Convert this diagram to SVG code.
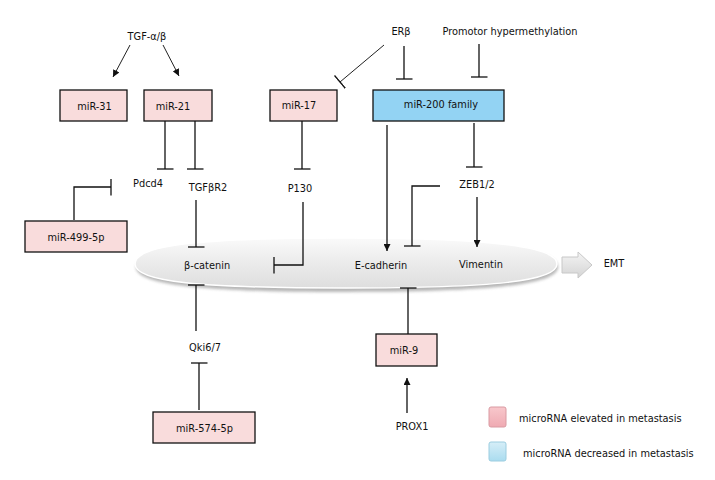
<svg xmlns="http://www.w3.org/2000/svg" width="715" height="480" viewBox="0 0 715 480">
<defs>
<style>
text{font-family:"DejaVu Sans",Verdana,sans-serif;font-size:9.8px;fill:#111;}
.c{text-anchor:middle;}
.pink{fill:#f9dcdc;stroke:#111;stroke-width:1.3;}
.blue{fill:#93d3f3;stroke:#111;stroke-width:1.3;}
.ln{fill:none;stroke:#111;stroke-width:1.3;}
.thin{fill:none;stroke:#222;stroke-width:1;}
.tee{marker-end:url(#tee);}
.arr{marker-end:url(#arr);}
</style>
<marker id="arr" viewBox="0 0 7 7" refX="7" refY="3.5" markerWidth="7" markerHeight="7" markerUnits="userSpaceOnUse" orient="auto">
<path d="M0,0 L7,3.5 L0,7 z" fill="#111"/>
</marker>
<marker id="tee" viewBox="0 0 2 17" refX="1" refY="8.5" markerWidth="2" markerHeight="17" markerUnits="userSpaceOnUse" orient="auto">
<path d="M1,0 L1,17" stroke="#111" stroke-width="1.3"/>
</marker>
<linearGradient id="ellg" x1="0" y1="0" x2="0" y2="1">
<stop offset="0" stop-color="#fafafa"/>
<stop offset="0.5" stop-color="#ebebeb"/>
<stop offset="1" stop-color="#dedede"/>
</linearGradient>
<linearGradient id="arrg" x1="0" y1="0" x2="0" y2="1">
<stop offset="0" stop-color="#f4f4f4"/>
<stop offset="1" stop-color="#d4d4d4"/>
</linearGradient>
<linearGradient id="lgp" x1="0" y1="0" x2="0" y2="1">
<stop offset="0" stop-color="#f8c8cc"/>
<stop offset="1" stop-color="#efaab2"/>
</linearGradient>
<linearGradient id="lgb" x1="0" y1="0" x2="0" y2="1">
<stop offset="0" stop-color="#d6eef8"/>
<stop offset="1" stop-color="#aadcef"/>
</linearGradient>
<filter id="sh" x="-10%" y="-50%" width="120%" height="200%">
<feGaussianBlur stdDeviation="1.8"/>
</filter>
</defs>
<rect width="715" height="480" fill="#fff"/>

<g id="cell">
<path d="M136,267 C136,248 201,241 347,241 C496,241 558,250 558,267 C558,284 496,292 347,292 C201,292 136,285 136,267 Z" fill="#8f8f8f" opacity="0.65" filter="url(#sh)"/>
<path d="M135,264 C135,245 200,238 346,238 C495,238 557,247 557,264 C557,281 495,288 346,288 C200,288 135,282 135,264 Z" fill="url(#ellg)" stroke="#fff" stroke-width="1.5"/>
</g>

<g id="connectors">
<line class="thin arr" x1="130" y1="45" x2="113" y2="77"/>
<line class="thin arr" x1="163" y1="45" x2="179" y2="76"/>
<line class="ln tee" x1="165" y1="121" x2="165" y2="169"/>
<line class="ln tee" x1="195" y1="121" x2="195" y2="169"/>
<path class="ln tee" d="M74,220 V187 H111"/>
<line class="ln tee" x1="302" y1="121" x2="302" y2="169"/>
<path class="ln tee" d="M303,202 V265 H274"/>
<line class="ln tee" x1="196" y1="200" x2="196" y2="247"/>
<line class="ln tee" x1="196" y1="331" x2="196" y2="285"/>
<line class="ln tee" x1="199" y1="410" x2="199" y2="363"/>
<line class="thin tee" x1="384" y1="45" x2="340" y2="82"/>
<line class="ln tee" x1="404" y1="46" x2="404" y2="79"/>
<line class="ln tee" x1="479" y1="44" x2="479" y2="77"/>
<line class="ln arr" x1="387" y1="125" x2="387" y2="251"/>
<line class="ln tee" x1="474" y1="123" x2="474" y2="167"/>
<path class="ln tee" d="M440,186 H412 V246"/>
<line class="ln arr" x1="477" y1="197" x2="477" y2="247"/>
<line class="ln tee" x1="408" y1="334" x2="408" y2="288"/>
<line class="ln arr" x1="407" y1="413" x2="407" y2="378"/>
</g>

<g id="emt-arrow">
<path d="M562,257 H578 V252 L592,265 L578,278 V273 H562 Z" fill="url(#arrg)" stroke="#c8c8c8" stroke-width="1"/>
</g>

<g id="n-tgf"><text class="c" x="147" y="39.5">TGF-α/β</text></g>
<g id="n-erb"><text class="c" x="401" y="34.5">ERβ</text></g>
<g id="n-promotor"><text class="c" x="510" y="34.5">Promotor hypermethylation</text></g>

<g id="n-mir31"><rect class="pink" x="60" y="90" width="67" height="31"/><text class="c" x="94.5" y="109.5">miR-31</text></g>
<g id="n-mir21"><rect class="pink" x="144" y="90" width="68" height="31"/><text class="c" x="173" y="109.5">miR-21</text></g>
<g id="n-mir17"><rect class="pink" x="270" y="90" width="67" height="31"/><text class="c" x="299" y="108.5">miR-17</text></g>
<g id="n-mir200"><rect class="blue" x="373" y="90" width="131" height="31"/><text class="c" x="441" y="108">miR-200 family</text></g>

<g id="n-pdcd4"><text class="c" x="148" y="186.5">Pdcd4</text></g>
<g id="n-tgfbr2"><text class="c" x="208" y="190.5">TGFβR2</text></g>
<g id="n-p130"><text class="c" x="300" y="191.5">P130</text></g>
<g id="n-zeb"><text class="c" x="477" y="187.5">ZEB1/2</text></g>

<g id="n-mir499"><rect class="pink" x="25" y="221" width="102" height="31"/><text class="c" x="76" y="240.5">miR-499-5p</text></g>

<g id="n-bcatenin"><text class="c" x="207" y="268.5">β-catenin</text></g>
<g id="n-ecadherin"><text class="c" x="381" y="268.5">E-cadherin</text></g>
<g id="n-vimentin"><text class="c" x="481" y="267.5">Vimentin</text></g>
<g id="n-emt"><text class="c" x="614" y="266.5">EMT</text></g>

<g id="n-qki"><text class="c" x="205" y="350.5">Qki6/7</text></g>
<g id="n-mir9"><rect class="pink" x="376" y="334" width="61" height="32"/><text class="c" x="404" y="353.5">miR-9</text></g>
<g id="n-mir574"><rect class="pink" x="153" y="412" width="102" height="31"/><text class="c" x="204.5" y="431.5">miR-574-5p</text></g>
<g id="n-prox1"><text class="c" x="412" y="429.5">PROX1</text></g>

<g id="legend">
<rect x="489" y="407" width="17" height="20" rx="2" fill="url(#lgp)" stroke="#d99aa2" stroke-width="1"/>
<text x="519" y="421.5">microRNA elevated in metastasis</text>
<rect x="489" y="442" width="17" height="19" rx="2" fill="url(#lgb)" stroke="#9ccde0" stroke-width="1"/>
<text x="523" y="456.5">microRNA decreased in metastasis</text>
</g>
</svg>
